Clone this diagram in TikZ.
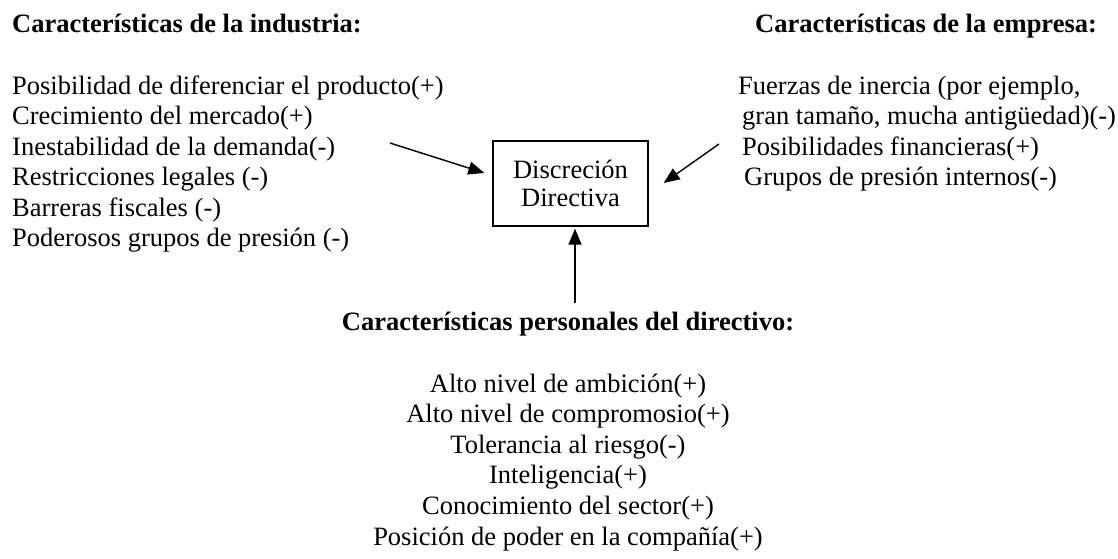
\documentclass[tikz,border=0pt]{standalone}
\usepackage{fontspec}
\setmainfont{Liberation Serif}
\usetikzlibrary{arrows.meta}
\tikzset{
  txt/.style={anchor=base west, inner sep=0pt, font=\fontsize{26.5}{30.5}\selectfont},
  ttl/.style={txt, font=\fontsize{26.5}{30.5}\selectfont\bfseries},
  ctxt/.style={anchor=base, inner sep=0pt, font=\fontsize{26.5}{30.5}\selectfont},
  cttl/.style={ctxt, font=\fontsize{26.5}{30.5}\selectfont\bfseries},
  boxnode/.style={draw, line width=1.3pt, minimum width=155pt, minimum height=85pt, align=center, inner sep=0pt, font=\fontsize{26.5}{28}\selectfont},
  arr/.style={line width=1.4pt, -{Triangle[length=16pt,width=13pt]}}
}
\begin{document}
\begin{tikzpicture}[x=1pt,y=-1pt]
\useasboundingbox (0,0) rectangle (1118,558);
% left column
\node[ttl] (ti) at (12,32) {Características de la industria:};
\node[txt] (i1) at (12,94) {Posibilidad de diferenciar el producto(+)};
\node[txt] (i2) at (12,124.5) {Crecimiento del mercado(+)};
\node[txt] (i3) at (12,155) {Inestabilidad de la demanda(-)};
\node[txt] (i4) at (12,185.5) {Restricciones legales (-)};
\node[txt] (i5) at (12,216) {Barreras fiscales (-)};
\node[txt] (i6) at (12,246.5) {Poderosos grupos de presión (-)};
% right column
\node[ttl] (te) at (755,32) {Características de la empresa:};
\node[txt] (e1) at (738,94) {Fuerzas de inercia (por ejemplo,};
\node[txt] (e2) at (742,124.5) {gran tamaño, mucha antigüedad)(-)};
\node[txt] (e3) at (742,155) {Posibilidades financieras(+)};
\node[txt] (e4) at (744,185.5) {Grupos de presión internos(-)};
% box
\node[boxnode] (box) at (570.5,183.5) {Discreción\\Directiva};
% bottom column
\node[cttl] (tp) at (568,330) {Características personales del directivo:};
\node[ctxt] (p1) at (568,392) {Alto nivel de ambición(+)};
\node[ctxt] (p2) at (568,422.6) {Alto nivel de compromosio(+)};
\node[ctxt] (p3) at (568,453.2) {Tolerancia al riesgo(-)};
\node[ctxt] (p4) at (568,483.8) {Inteligencia(+)};
\node[ctxt] (p5) at (568,514.4) {Conocimiento del sector(+)};
\node[ctxt] (p6) at (568,545) {Posición de poder en la compañía(+)};
% arrows
\coordinate (pl) at (390,143);
\coordinate (pr) at (719,144);
\coordinate (pb) at (575,303);
\draw[arr] (pl) -- ([shift={(-8,-10.5)}]box.west);
\draw[arr] (pr) -- ([shift={(15,-0.5)}]box.east);
\draw[arr] (pb) -- ([yshift=-2pt]pb |- box.south);
\end{tikzpicture}
\end{document}
